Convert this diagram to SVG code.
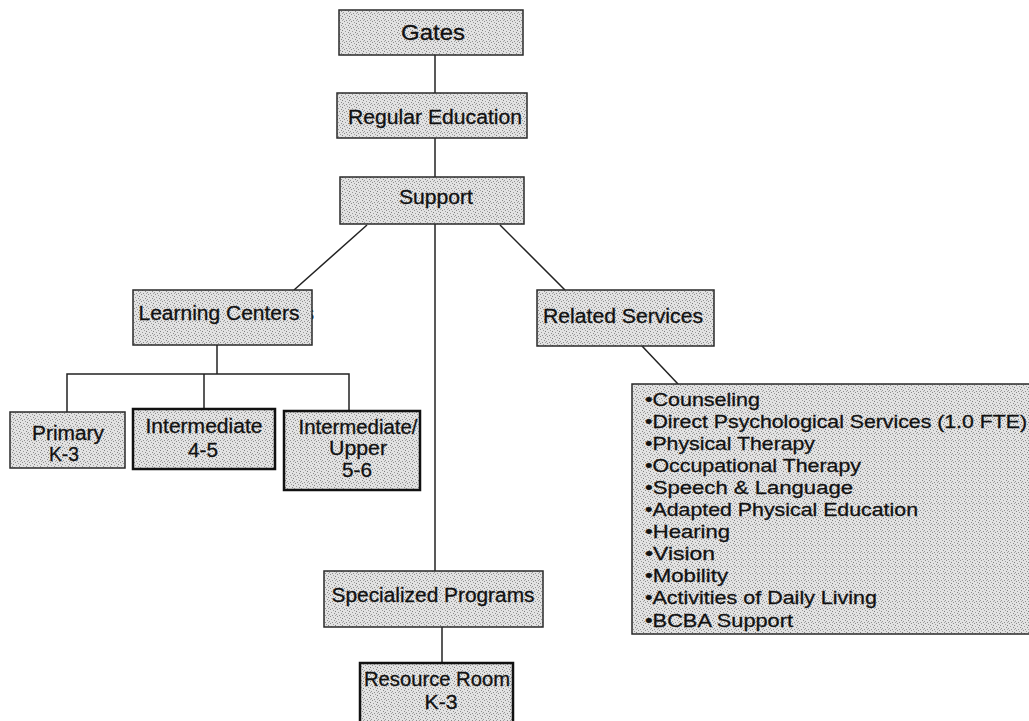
<svg xmlns="http://www.w3.org/2000/svg" width="1029" height="721" viewBox="0 0 1029 721">
  <defs>
    <!-- stippled halftone fill used by every box -->
    <pattern id="stipple" width="7" height="7" patternUnits="userSpaceOnUse">
      <rect width="7" height="7" fill="#e2e2e2"/>
      <rect x="1" y="0" width="1" height="1" fill="#8a8a8a"/>
      <rect x="4" y="1" width="1" height="1" fill="#9a9a9a"/>
      <rect x="6" y="2" width="1" height="1" fill="#7d7d7d"/>
      <rect x="2" y="3" width="1" height="1" fill="#9a9a9a"/>
      <rect x="5" y="4" width="1" height="1" fill="#888"/>
      <rect x="0" y="5" width="1" height="1" fill="#959595"/>
      <rect x="3" y="6" width="1" height="1" fill="#8c8c8c"/>
      <rect x="6" y="6" width="1" height="1" fill="#a5a5a5"/>
    </pattern>
    <style>
      .box { fill: url(#stipple); stroke: #2a2a2a; stroke-width: 1.5; }
      .box.heavy { stroke: #111; stroke-width: 2.5; }
      .lbl { font-family: "Liberation Sans", Arial, sans-serif; font-size: 20px; fill: #111; stroke: #111; stroke-width: 0.3; }
      .list { font-size: 19px; }
      .mid { text-anchor: middle; }
      .big { font-size: 22px; }
      .conn { stroke: #222; stroke-width: 1.5; fill: none; }
    </style>
  </defs>

  <rect width="1029" height="721" fill="#ffffff"/>

  <!-- connectors -->
  <g id="connectors">
    <line class="conn" x1="435" y1="55" x2="435" y2="93"/>
    <line class="conn" x1="435" y1="138" x2="435" y2="177"/>
    <line class="conn" x1="435" y1="224" x2="435" y2="571"/>
    <line class="conn" x1="367" y1="225" x2="294" y2="290"/>
    <line class="conn" x1="500" y1="225" x2="565" y2="290"/>
    <line class="conn" x1="642" y1="346" x2="678" y2="384"/>
    <polyline class="conn" points="217,345 217,374"/>
    <polyline class="conn" points="67,412 67,374 349,374 349,411"/>
    <line class="conn" x1="204" y1="374" x2="204" y2="409"/>
    <line class="conn" x1="442" y1="627" x2="442" y2="663"/>
  </g>

  <g id="gates">
    <rect class="box" x="339" y="10" width="184" height="45"/>
    <text class="lbl big mid" x="433" y="40" textLength="64" lengthAdjust="spacingAndGlyphs">Gates</text>
  </g>

  <g id="regular-education">
    <rect class="box" x="337" y="93" width="190" height="45"/>
    <text class="lbl mid" x="435" y="124" textLength="174" lengthAdjust="spacingAndGlyphs">Regular Education</text>
  </g>

  <g id="support">
    <rect class="box" x="340" y="177" width="184" height="47"/>
    <text class="lbl mid" x="436" y="204" textLength="74" lengthAdjust="spacingAndGlyphs">Support</text>
  </g>

  <g id="learning-centers">
    <text class="lbl" x="304" y="320">s</text>
    <rect class="box" x="133" y="290" width="179" height="55"/>
    <text class="lbl mid" x="219" y="320" textLength="161" lengthAdjust="spacingAndGlyphs">Learning Centers</text>
  </g>

  <g id="related-services">
    <rect class="box" x="537" y="290" width="177" height="56"/>
    <text class="lbl mid" x="623" y="323" textLength="160" lengthAdjust="spacingAndGlyphs">Related Services</text>
  </g>

  <g id="primary">
    <rect class="box" x="10" y="412" width="115" height="56"/>
    <text class="lbl mid" x="68" y="440" textLength="72" lengthAdjust="spacingAndGlyphs">Primary</text>
    <text class="lbl mid" x="64" y="461" textLength="30" lengthAdjust="spacingAndGlyphs">K-3</text>
  </g>

  <g id="intermediate">
    <rect class="box heavy" x="133" y="409" width="142" height="60"/>
    <text class="lbl mid" x="204" y="433" textLength="117" lengthAdjust="spacingAndGlyphs">Intermediate</text>
    <text class="lbl mid" x="203" y="457" textLength="30" lengthAdjust="spacingAndGlyphs">4-5</text>
  </g>

  <g id="intermediate-upper">
    <rect class="box heavy" x="284" y="411" width="136" height="79"/>
    <text class="lbl mid" x="358" y="434" textLength="119" lengthAdjust="spacingAndGlyphs">Intermediate/</text>
    <text class="lbl mid" x="358" y="455" textLength="58" lengthAdjust="spacingAndGlyphs">Upper</text>
    <text class="lbl mid" x="357" y="477" textLength="30" lengthAdjust="spacingAndGlyphs">5-6</text>
  </g>

  <g id="services-list">
    <rect class="box" x="632" y="384" width="405" height="250"/>
    <g class="lbl list">
      <text x="645" y="406" textLength="115" lengthAdjust="spacingAndGlyphs">•Counseling</text>
      <text x="645" y="428" textLength="382" lengthAdjust="spacingAndGlyphs">•Direct Psychological Services (1.0 FTE)</text>
      <text x="645" y="450" textLength="170" lengthAdjust="spacingAndGlyphs">•Physical Therapy</text>
      <text x="645" y="472" textLength="216" lengthAdjust="spacingAndGlyphs">•Occupational Therapy</text>
      <text x="645" y="494" textLength="208" lengthAdjust="spacingAndGlyphs">•Speech &amp; Language</text>
      <text x="645" y="516" textLength="273" lengthAdjust="spacingAndGlyphs">•Adapted Physical Education</text>
      <text x="645" y="538" textLength="85" lengthAdjust="spacingAndGlyphs">•Hearing</text>
      <text x="645" y="560" textLength="70" lengthAdjust="spacingAndGlyphs">•Vision</text>
      <text x="645" y="582" textLength="83" lengthAdjust="spacingAndGlyphs">•Mobility</text>
      <text x="645" y="604" textLength="232" lengthAdjust="spacingAndGlyphs">•Activities of Daily Living</text>
      <text x="645" y="627" textLength="148" lengthAdjust="spacingAndGlyphs">•BCBA Support</text>
    </g>
  </g>

  <g id="specialized-programs">
    <rect class="box" x="324" y="571" width="219" height="56"/>
    <text class="lbl mid" x="433" y="602" textLength="203" lengthAdjust="spacingAndGlyphs">Specialized Programs</text>
  </g>

  <g id="resource-room">
    <rect class="box heavy" x="360" y="663" width="153" height="70"/>
    <text class="lbl mid" x="437" y="686" textLength="146" lengthAdjust="spacingAndGlyphs">Resource Room</text>
    <text class="lbl mid" x="441" y="709" textLength="33" lengthAdjust="spacingAndGlyphs">K-3</text>
  </g>
</svg>
